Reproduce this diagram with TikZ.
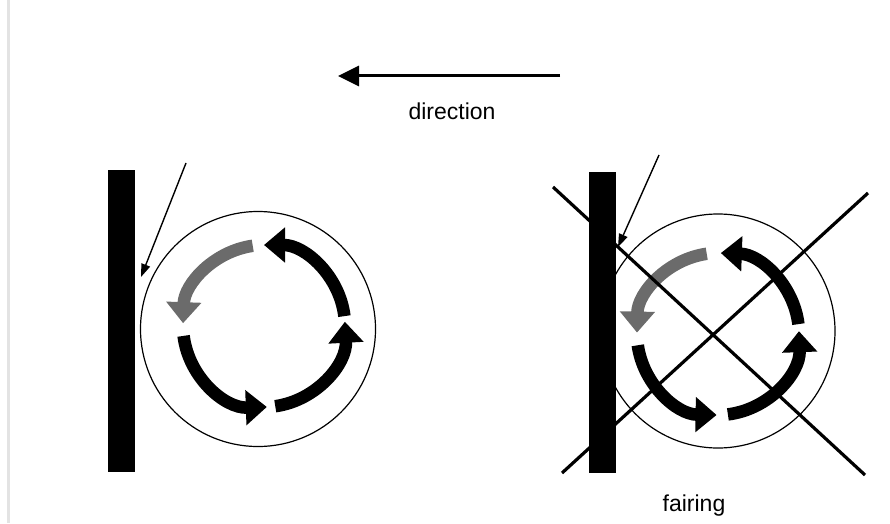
\documentclass[tikz,border=0pt]{standalone}
\usepackage{fontspec}
\setmainfont{Liberation Sans}
\usetikzlibrary{arrows.meta}
\begin{document}
\begin{tikzpicture}[x=1pt,y=1pt,
  ringarc/.style={line width=12.5pt,-{Triangle[length=21pt,width=34pt]}},
  grayarc/.style={ringarc,draw=black!58},
  outline/.style={draw=black,line width=1.2pt},
  plate/.style={fill=black,draw=none},
  pointer/.style={line width=1.4pt,-{Triangle[length=13pt,width=9pt]}},
  dirarrow/.style={line width=3pt,-{Triangle[length=21pt,width=20pt]}},
  cross/.style={line width=3.2pt},
  label/.style={font=\fontsize{23}{27}\selectfont,inner sep=0pt}]
\useasboundingbox (0,0) rectangle (890,523);
% left page edge line
\draw[gray!22,line width=3pt] (8,0) -- (8,523);
% direction arrow
\coordinate (dirS) at (560,447);
\coordinate (dirE) at (338,447);
\draw[dirarrow] (dirS) -- (dirE);
\node[label] (dir) at (452,412) {direction};
% ---------- left diagram ----------
\fill[plate] (108,51) rectangle (135,353);
\node[circle,outline,minimum size=235pt,inner sep=0pt] (LCirc) at (258,194) {};
\coordinate (LC) at (264,197);
\coordinate (Lp1) at (186,360);
\coordinate (Lp2) at (141,246);
\draw[pointer] (Lp1) -- (Lp2);
\draw[ringarc] ([shift={(7:81)}]LC) arc[start angle=7,end angle=90,radius=81];
\draw[grayarc] ([shift={(98:81)}]LC) arc[start angle=98,end angle=178,radius=81];
\draw[ringarc] ([shift={(187:81)}]LC) arc[start angle=187,end angle=272,radius=81];
\draw[ringarc] ([shift={(278:81)}]LC) arc[start angle=278,end angle=363,radius=81];
% ---------- right diagram ----------
\node[circle,outline,minimum size=234pt,inner sep=0pt] (RCirc) at (718,192) {};
\fill[plate] (589,50) rectangle (616,351);
\coordinate (RC) at (718,189);
\coordinate (Rp1) at (659,368);
\coordinate (Rp2) at (618,276);
\draw[pointer] (Rp1) -- (Rp2);
\draw[ringarc] ([shift={(7:81)}]RC) arc[start angle=7,end angle=88,radius=81];
\draw[grayarc] ([shift={(98:81)}]RC) arc[start angle=98,end angle=179,radius=81];
\draw[ringarc] ([shift={(188:81)}]RC) arc[start angle=188,end angle=269,radius=81];
\draw[ringarc] ([shift={(277:81)}]RC) arc[start angle=277,end angle=362,radius=81];
\coordinate (X1a) at (553,336);
\coordinate (X1b) at (865,48);
\coordinate (X2a) at (562,50);
\coordinate (X2b) at (868,330);
\draw[cross] (X1a) -- (X1b);
\draw[cross] (X2a) -- (X2b);
\node[label] (fair) at (694,17) {fairing};
\end{tikzpicture}
\end{document}
